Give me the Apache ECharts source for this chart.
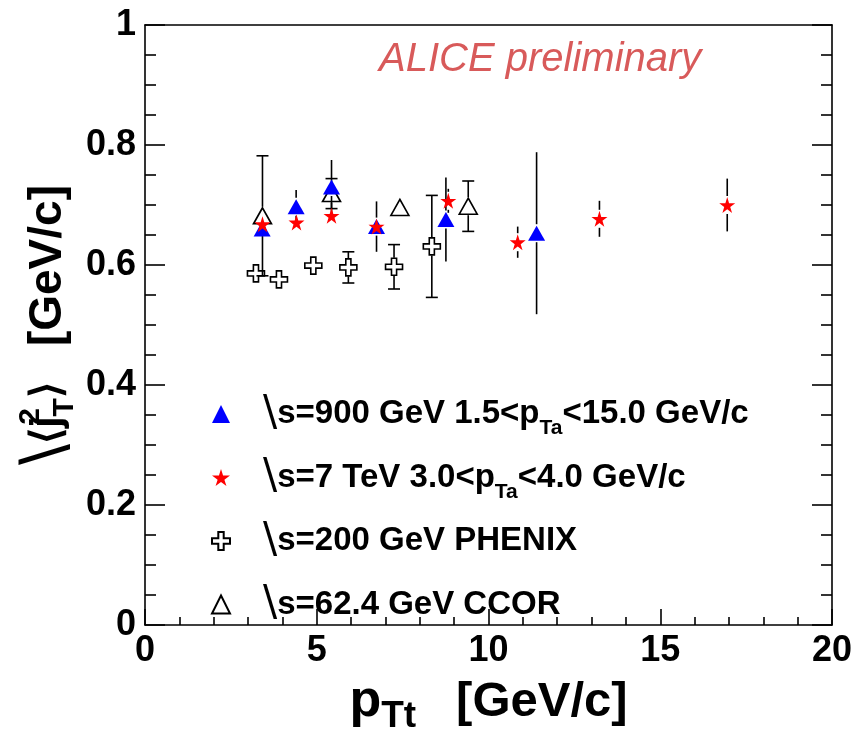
<!DOCTYPE html>
<html><head><meta charset="utf-8">
<script src="https://cdn.jsdelivr.net/npm/echarts@6/dist/echarts.min.js"></script>
<style>html,body{margin:0;padding:0;background:#fff}#c{width:856px;height:742px}</style>
</head><body><div id="c"></div>
<script>
// ---- data ----
const xTickLabels = ['0', '5', '10', '15', '20'];
const yTickLabels = ['0', '0.2', '0.4', '0.6', '0.8', '1'];

const s900_x   = [3.41, 4.40, 5.43, 6.74, 8.76, 11.40];
const s900_y   = [0.660, 0.697, 0.730, 0.664, 0.676, 0.653];
const s900_err = [0.010, 0.028, 0.045, 0.042, 0.070, 0.135];

const s7_x   = [3.42, 4.41, 5.43, 6.74, 8.83, 10.85, 13.23, 16.95];
const s7_y   = [0.668, 0.671, 0.682, 0.664, 0.707, 0.638, 0.677, 0.700];
const s7_err = [0.010, 0.010, 0.010, 0.010, 0.020, 0.026, 0.030, 0.044];

const phenix_x   = [3.23, 3.90, 4.90, 5.92, 7.25, 8.35];
const phenix_y   = [0.586, 0.576, 0.599, 0.596, 0.597, 0.631];
const phenix_err = [0.005, 0.005, 0.005, 0.026, 0.037, 0.085];

const ccor_x   = [3.42, 5.43, 7.42, 9.41];
const ccor_y   = [0.682, 0.719, 0.696, 0.698];
const ccor_err = [0.100, 0.025, 0.005, 0.042];

const seriesNames = ['s900', 's7', 'phenix', 'ccor'];
const legendLabels = {
  s900:   '{sq|\\}{b|s=900 GeV 1.5<p}{sub|Ta}{b|<15.0 GeV/c}',
  s7:     '{sq|\\}{b|s=7 TeV 3.0<p}{sub|Ta}{b|<4.0 GeV/c}',
  phenix: '{sq|\\}{b|s=200 GeV PHENIX}{sub| }',
  ccor:   '{sq|\\}{b|s=62.4 GeV CCOR}{sub| }'
};

// ---- helpers ----
const FONT = '"Liberation Sans", Arial, Helvetica, sans-serif';
function zip(xs, ys, es) { return xs.map((x, i) => [x, ys[i], es[i]]); }
const STAR = 'path://M50,0 L61,35 L98,35 L68,57 L79,91 L50,70 L21,91 L32,57 L2,35 L39,35 Z';
const CROSS = 'path://M3.5,0 L6.5,0 L6.5,3.5 L10,3.5 L10,6.5 L6.5,6.5 L6.5,10 L3.5,10 L3.5,6.5 L0,6.5 L0,3.5 L3.5,3.5 Z';

function errRender(cap) {
  return function (params, api) {
    const x = api.value(0), y = api.value(1), e = api.value(2);
    const c = api.coord([x, y]), t = api.coord([x, y + e]), b = api.coord([x, y - e]);
    const gap = 9, hw = 6, ch = [];
    const st = { stroke: '#000', lineWidth: 1.6 };
    if (c[1] - t[1] > gap) {
      ch.push({ type: 'line', shape: { x1: c[0], y1: c[1] - gap, x2: c[0], y2: t[1] }, style: st });
      if (cap) ch.push({ type: 'line', shape: { x1: c[0] - hw, y1: t[1], x2: c[0] + hw, y2: t[1] }, style: st });
    }
    if (b[1] - c[1] > gap) {
      ch.push({ type: 'line', shape: { x1: c[0], y1: c[1] + gap, x2: c[0], y2: b[1] }, style: st });
      if (cap) ch.push({ type: 'line', shape: { x1: c[0] - hw, y1: b[1], x2: c[0] + hw, y2: b[1] }, style: st });
    }
    return { type: 'group', children: ch };
  };
}

const d900 = zip(s900_x, s900_y, s900_err);
const d7 = zip(s7_x, s7_y, s7_err);
const dph = zip(phenix_x, phenix_y, phenix_err);
const dcc = zip(ccor_x, ccor_y, ccor_err);

const chart = echarts.init(document.getElementById('c'), null, { renderer: 'canvas' });
const axisLineStyle = { color: '#000', width: 1.6 };
chart.setOption({
  animation: false,
  backgroundColor: '#fff',
  textStyle: { fontFamily: FONT },
  title: {
    text: 'ALICE preliminary', left: 374, top: 35,
    textStyle: { fontFamily: FONT, fontSize: 40, fontStyle: 'italic', fontWeight: 'normal', color: '#d85a5a' }
  },
  grid: { left: 145, right: 24, top: 25, bottom: 117, containLabel: false },
  legend: {
    data: seriesNames, orient: 'vertical', left: 206, top: 384,
    itemWidth: 18, itemHeight: 18, itemGap: 13.5, selectedMode: false,
    formatter: n => legendLabels[n],
    textStyle: {
      fontFamily: FONT, color: '#000', lineHeight: 50,
      rich: {
        sq: { fontFamily: '"DejaVu Sans", sans-serif', fontSize: 42, fontWeight: 'normal', lineHeight: 50, padding: [0, 0, 0, 28] },
        b: { fontFamily: FONT, fontSize: 33, fontWeight: 'bold', lineHeight: 50 },
        sub: { fontFamily: FONT, fontSize: 21, fontWeight: 'bold', lineHeight: 21, verticalAlign: 'bottom' }
      }
    }
  },
  xAxis: [{
    type: 'value', min: 0, max: 20, interval: 5,
    axisLine: { show: true, onZero: false, lineStyle: axisLineStyle },
    axisTick: { show: true, inside: true, length: 16, lineStyle: { color: '#000', width: 1.6 } },
    minorTick: { show: true, splitNumber: 5, length: 8, lineStyle: { color: '#000', width: 1.6 } },
    splitLine: { show: false },
    axisLabel: { margin: 8, fontFamily: FONT, fontSize: 36, fontWeight: 'bold', color: '#000',
      formatter: v => xTickLabels[Math.round(v / 5)] },
    name: '{p|p}{sub|Tt}{b|[GeV/c]}',
    nameLocation: 'middle', nameGap: 44,
    nameTextStyle: {
      rich: {
        p: { fontFamily: FONT, fontSize: 52, fontWeight: 'bold', lineHeight: 66, color: '#000' },
        sub: { fontFamily: FONT, fontSize: 37, fontWeight: 'bold', lineHeight: 32, verticalAlign: 'bottom', color: '#000', padding: [0, 40, 0, 0] },
        b: { fontFamily: FONT, fontSize: 49, fontWeight: 'bold', lineHeight: 66, color: '#000' }
      }
    }
  }, {
    type: 'value', min: 0, max: 20, position: 'top',
    axisLine: { show: true, onZero: false, lineStyle: axisLineStyle },
    axisTick: { show: false }, axisLabel: { show: false }, splitLine: { show: false }
  }],
  yAxis: [{
    type: 'value', min: 0, max: 1, interval: 0.2,
    axisLine: { show: true, onZero: false, lineStyle: axisLineStyle },
    axisTick: { show: true, inside: true, length: 20, lineStyle: { color: '#000', width: 1.6 } },
    minorTick: { show: true, splitNumber: 4, length: 11, lineStyle: { color: '#000', width: 1.6 } },
    splitLine: { show: false },
    axisLabel: { margin: 9, fontFamily: FONT, fontSize: 36, fontWeight: 'bold', color: '#000',
      formatter: v => yTickLabels[Math.round(v / 0.2)] },
    name: '{sq|\\}{b|⟨j}{sup|2}{sub|T}{b|⟩}{g|[GeV/c]}',
    nameLocation: 'middle', nameGap: 65, nameRotate: 90, nameMoveOverlap: false,
    nameTextStyle: {
      rich: {
        sq: { fontFamily: '"DejaVu Sans", sans-serif', fontSize: 62, fontWeight: 'normal', lineHeight: 64, color: '#000' },
        b: { fontFamily: FONT, fontSize: 42, fontWeight: 'bold', lineHeight: 64, color: '#000' },
        sup: { fontFamily: FONT, fontSize: 30, fontWeight: 'bold', lineHeight: 30, verticalAlign: 'top', width: 0, color: '#000' },
        sub: { fontFamily: FONT, fontSize: 30, fontWeight: 'bold', lineHeight: 30, verticalAlign: 'bottom', color: '#000' },
        g: { fontFamily: FONT, fontSize: 46, fontWeight: 'bold', lineHeight: 64, color: '#000', padding: [0, 0, 0, 36] }
      }
    }
  }, {
    type: 'value', min: 0, max: 1, interval: 0.2, position: 'right',
    axisLine: { show: true, onZero: false, lineStyle: axisLineStyle },
    axisTick: { show: true, inside: true, length: 20, lineStyle: { color: '#000', width: 1.6 } },
    minorTick: { show: true, splitNumber: 4, length: 11, lineStyle: { color: '#000', width: 1.6 } },
    axisLabel: { show: false }, splitLine: { show: false }
  }],
  series: [
    { type: 'custom', name: 'e900', renderItem: errRender(false), data: d900, z: 2, silent: true },
    { type: 'custom', name: 'e7', renderItem: errRender(false), data: d7, z: 2, silent: true },
    { type: 'custom', name: 'eph', renderItem: errRender(true), data: dph, z: 2, silent: true },
    { type: 'custom', name: 'ecc', renderItem: errRender(true), data: dcc, z: 2, silent: true },
    { type: 'scatter', name: 'phenix', data: dph, symbol: CROSS, symbolSize: 17, z: 3,
      itemStyle: { color: 'rgba(0,0,0,0)', borderColor: '#000', borderWidth: 1.6, opacity: 1 } },
    { type: 'scatter', name: 'ccor', data: dcc, symbol: 'triangle', symbolSize: [18, 16], z: 3,
      itemStyle: { color: 'rgba(0,0,0,0)', borderColor: '#000', borderWidth: 1.6, opacity: 1 } },
    { type: 'scatter', name: 's900', data: d900, symbol: 'triangle', symbolSize: [17, 15], z: 4,
      itemStyle: { color: '#0000ff', opacity: 1 } },
    { type: 'scatter', name: 's7', data: d7, symbol: STAR, symbolSize: 16, z: 5,
      itemStyle: { color: '#ff0000', opacity: 1 } }
  ]
});
</script>
</body></html>
